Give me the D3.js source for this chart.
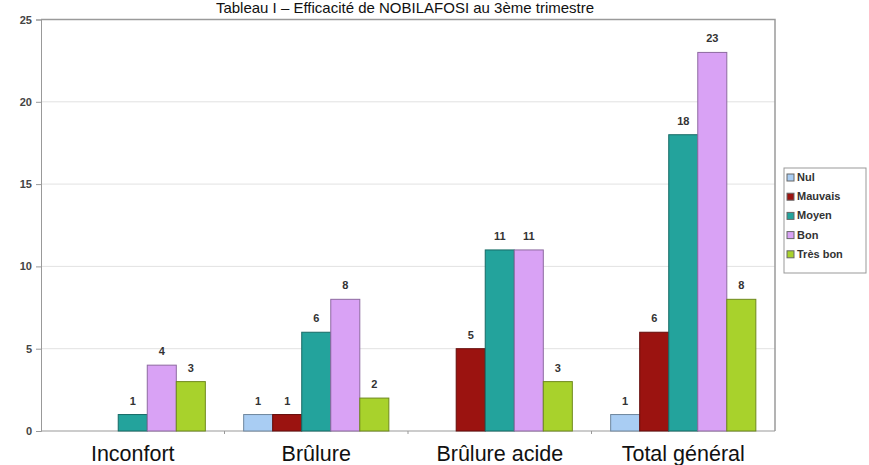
<!DOCTYPE html>
<meta charset="utf-8">
<script src="https://cdn.jsdelivr.net/npm/d3@7"></script>
<style>
  body { margin: 0; background: #fff; }
  svg { display: block; font-family: "Liberation Sans", Arial, sans-serif; }
</style>
<svg id="graph" width="869" height="465"></svg>
<script>

// data
var categories = ["Inconfort", "Brûlure", "Brûlure acide", "Total général"];
var seriesNames = ["Nul", "Mauvais", "Moyen", "Bon", "Très bon"];
var nul = [0, 1, 0, 1];
var mauvais = [0, 1, 5, 6];
var moyen = [1, 6, 11, 18];
var bon = [4, 8, 11, 23];
var tresBon = [3, 2, 3, 8];
var yTicks = [0, 5, 10, 15, 20, 25];
var title = "Tableau I – Efficacité de NOBILAFOSI au 3ème trimestre";

var colors = ["#a9cdf3", "#9b1310", "#23a39c", "#d9a2f5", "#a8d22c"];
var values = [nul, mauvais, moyen, bon, tresBon];

var svg = d3.select("#graph"),
    plot = {left: 41, right: 775, top: 19.5, bottom: 431};

var x0 = d3.scaleBand().domain(categories).range([plot.left, plot.right]).padding(0),
    x1 = d3.scaleBand().domain(seriesNames).range([0, x0.bandwidth()]).paddingInner(0).paddingOuter(0.66),
    y = d3.scaleLinear().domain([0, 25]).range([plot.bottom, plot.top]),
    z = d3.scaleOrdinal().domain(seriesNames).range(colors);

// title
svg.append("text")
    .attr("x", 405)
    .attr("y", 13)
    .attr("text-anchor", "middle")
    .style("font-size", "15px")
    .style("fill", "#111")
    .text(title);

// gridlines
svg.append("g")
  .selectAll("line")
  .data(yTicks.filter(function(d) { return d > 0 && d < 25; }))
  .enter().append("line")
    .attr("x1", plot.left).attr("x2", plot.right)
    .attr("y1", function(d) { return y(d); })
    .attr("y2", function(d) { return y(d); })
    .style("stroke", "#e2e2e2");

// frame top + right
svg.append("path")
    .attr("d", "M" + plot.left + "," + y(25) + "H" + plot.right + "V" + plot.bottom)
    .style("fill", "none")
    .style("stroke", "#9a9a9a")
    .style("stroke-width", 1.5);

// y axis
var yAxis = svg.append("g")
    .attr("transform", "translate(" + plot.left + ",0)")
    .call(d3.axisLeft(y).tickValues(yTicks).tickSize(5).tickPadding(4));
yAxis.select(".domain").style("stroke", "#999");
yAxis.selectAll(".tick line").style("stroke", "#999");
yAxis.selectAll("text")
    .style("font-size", "11px")
    .style("font-weight", "bold")
    .style("fill", "#444");

// x axis: ticks at category boundaries
svg.append("line")
    .attr("x1", plot.left).attr("x2", plot.right)
    .attr("y1", plot.bottom).attr("y2", plot.bottom)
    .style("stroke", "#999");
svg.append("g")
  .selectAll("line")
  .data(categories.slice(1))
  .enter().append("line")
    .attr("x1", function(d) { return x0(d); })
    .attr("x2", function(d) { return x0(d); })
    .attr("y1", plot.bottom).attr("y2", plot.bottom + 3)
    .style("stroke", "#999");

svg.append("g")
  .selectAll("text")
  .data(categories)
  .enter().append("text")
    .attr("x", function(d) { return x0(d) + x0.bandwidth() / 2; })
    .attr("y", 461)
    .attr("text-anchor", "middle")
    .style("font-size", "21.5px")
    .style("fill", "#111")
    .text(function(d) { return d; });

// bars
var rows = [];
categories.forEach(function(c, i) {
  seriesNames.forEach(function(s, j) {
    rows.push({cat: c, series: s, value: values[j][i]});
  });
});
rows = rows.filter(function(d) { return d.value > 0; });

var bars = svg.append("g");
bars.selectAll("rect")
  .data(rows)
  .enter().append("rect")
    .attr("x", function(d) { return x0(d.cat) + x1(d.series); })
    .attr("y", function(d) { return y(d.value); })
    .attr("width", x1.bandwidth())
    .attr("height", function(d) { return plot.bottom - y(d.value); })
    .style("fill", function(d) { return z(d.series); })
    .style("stroke", function(d) { return d3.color(z(d.series)).darker(1.2); })
    .style("stroke-width", 1);

bars.selectAll("text")
  .data(rows)
  .enter().append("text")
    .attr("x", function(d) { return x0(d.cat) + x1(d.series) + x1.bandwidth() / 2; })
    .attr("y", function(d) { return y(d.value) - 10; })
    .attr("text-anchor", "middle")
    .style("font-size", "11px")
    .style("font-weight", "bold")
    .style("fill", "#333")
    .text(function(d) { return d.value; });

// legend
var legend = svg.append("g").attr("transform", "translate(784,168)");
legend.append("rect")
    .attr("width", 82).attr("height", 105)
    .style("fill", "#fff")
    .style("stroke", "#999");
var item = legend.selectAll(".item")
  .data(seriesNames)
  .enter().append("g")
    .attr("class", "item")
    .attr("transform", function(d, i) { return "translate(3," + (13 + i * 19.2) + ")"; });
item.append("rect")
    .attr("y", -7).attr("width", 7).attr("height", 7)
    .style("fill", function(d) { return z(d); })
    .style("stroke", "#666");
item.append("text")
    .attr("x", 10)
    .attr("y", 0)
    .style("font-size", "11px")
    .style("font-weight", "bold")
    .style("fill", "#333")
    .text(function(d) { return d; });

</script>
